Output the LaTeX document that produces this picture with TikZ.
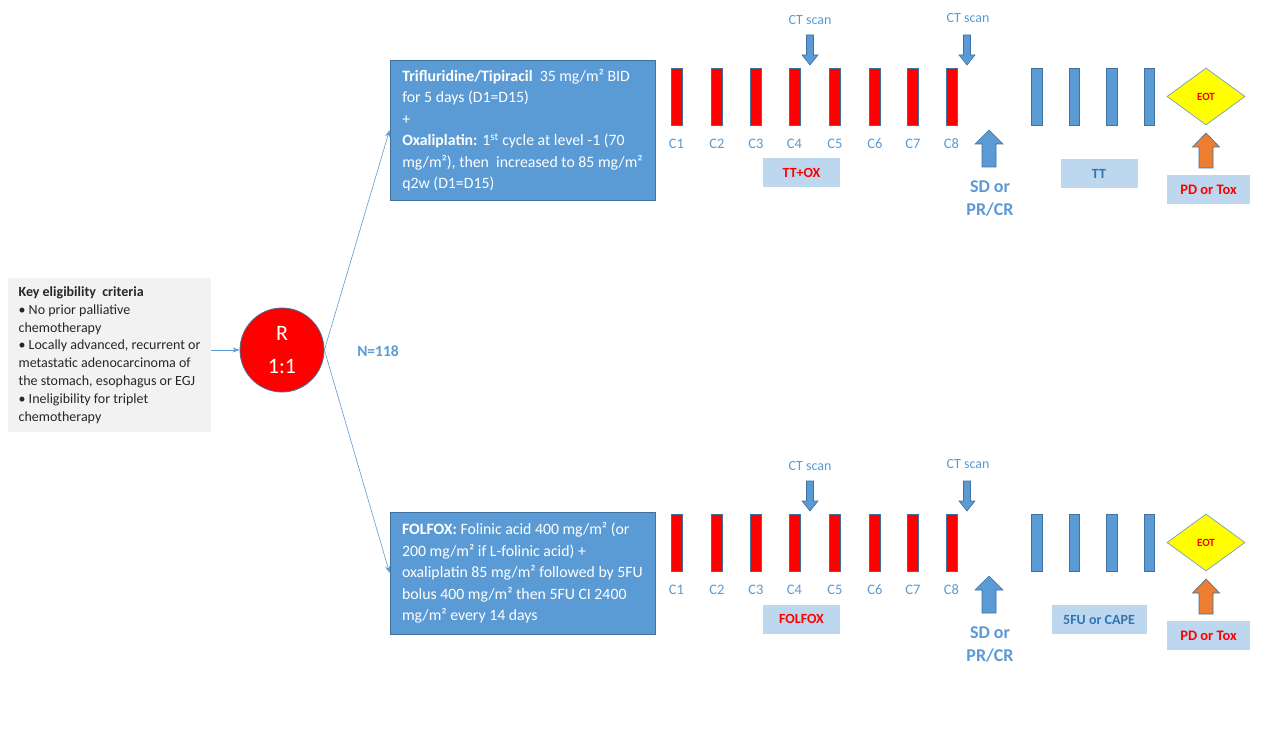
\documentclass[tikz,border=0pt]{standalone}
\usepackage{fontspec}
\setmainfont{Carlito}
\usetikzlibrary{shapes.geometric,arrows.meta}
\definecolor{cblue}{HTML}{5B9BD5}
\definecolor{cdark}{HTML}{41719C}
\definecolor{clight}{HTML}{BDD7EE}
\definecolor{cgray}{HTML}{F2F2F2}
\definecolor{cred}{HTML}{FF0000}
\definecolor{corange}{HTML}{ED7D31}
\definecolor{cyellow}{HTML}{FFFF00}
\definecolor{ctxt}{HTML}{262626}
\definecolor{ctt}{HTML}{2E75B6}
\tikzset{
  redbar/.style={draw=cdark,fill=cred,line width=0.7pt,minimum width=11pt,minimum height=57pt,inner sep=0pt},
  bluebar/.style={draw=cdark,fill=cblue,line width=0.7pt,minimum width=10.5pt,minimum height=57pt,inner sep=0pt},
  clbl/.style={text=cblue,font=\fontsize{14.5}{17}\selectfont,inner sep=0pt},
  ctlbl/.style={text=cblue,font=\fontsize{14}{17}\selectfont,inner sep=0pt},
  lbox/.style={fill=clight,draw=none,inner sep=0pt,minimum height=29pt,font=\bfseries\fontsize{14}{17}\selectfont},
  armbox/.style={fill=cblue,draw=cdark,line width=0.8pt,text=white,align=left,minimum width=265pt,inner sep=0pt,font=\fontsize{15.8}{21.5}\selectfont},
  eot/.style={diamond,fill=cyellow,draw=cdark!70,line width=0.7pt,minimum width=78pt,minimum height=57pt,inner sep=0pt,text=cred,font=\bfseries\fontsize{11}{13}\selectfont},
  resp/.style={text=cblue,align=center,inner sep=0pt,font=\bfseries\fontsize{18}{23}\selectfont},
  conn/.style={draw=cblue,line width=0.6pt,-{Stealth[length=7pt,width=5pt]}},
  ctarrow/.pic={\filldraw[fill=cblue,draw=cdark,line width=0.6pt] (-3.5,-15)--(3.5,-15)--(3.5,5)--(8,5)--(0,15)--(-8,5)--(-3.5,5)--cycle;},
  sdarrow/.pic={\filldraw[fill=cblue,draw=cdark,line width=0.6pt] (-7,18.5)--(7,18.5)--(7,-4.5)--(14,-4.5)--(0,-18.5)--(-14,-4.5)--(-7,-4.5)--cycle;},
  pdarrow/.pic={\filldraw[fill=corange,draw=cdark,line width=0.6pt] (-7,17.5)--(7,17.5)--(7,-3.5)--(13.5,-3.5)--(0,-17.5)--(-13.5,-3.5)--(-7,-3.5)--cycle;}
}
\newcommand\armrow[3]{%
  \foreach \i/\xx in {1/676.5,2/717,3/756,4/794.5,5/835,6/875,7/913,8/951.5}{
    \node[redbar] (c\i) at (\xx,96.5) {};
    \node[clbl] (l\i) at (\xx,144) {C\i};
  }
  \foreach \i/\xx in {1/1037,2/1074.5,3/1112,4/1149.5}{
    \node[bluebar] (m\i) at (\xx,96.5) {};
  }
  \node[ctlbl] (ct1) at (810,20) {CT scan};
  \node[ctlbl] (ct2) at (968,18) {CT scan};
  \pic at (810,50) {ctarrow};
  \pic at (967,50) {ctarrow};
  \node[lbox,minimum width=77pt,text=cred] (lab1) at (801.5,173) {#1};
  \node[lbox,minimum width=#3,text=ctt] (lab2) at (1099,173.5) {#2};
  \pic at (989,148.5) {sdarrow};
  \node[resp] (sd) at (990,198.5) {SD or\\PR/CR};
  \node[eot] (eot) at (1206,96.5) {EOT};
  \pic at (1206,150.5) {pdarrow};
  \node[lbox,minimum width=83pt,text=cred,font=\bfseries\fontsize{14.5}{17}\selectfont] (pd) at (1208.5,189.5) {PD or Tox};
}
\begin{document}
\begin{tikzpicture}[x=1pt,y=-1pt]
\useasboundingbox[fill=white] (0,0) rectangle (1274,746);
% eligibility
\node[fill=cgray,draw=none,text=ctxt,align=left,minimum width=203pt,minimum height=154pt,inner sep=0pt,
      font=\fontsize{14}{17.8}\selectfont] (elig) at (109.5,355)
 {\textbf{Key eligibility\ \ criteria}\\
  • No prior palliative\\
  chemotherapy\\
  • Locally advanced, recurrent or\\
  metastatic adenocarcinoma of\\
  the stomach, esophagus or EGJ\\
  • Ineligibility for triplet\\
  chemotherapy};
\node[circle,fill=cred,draw=cdark,line width=0.8pt,minimum size=84pt,inner sep=0pt,text=white,align=center,
      font=\fontsize{22}{33}\selectfont] (R) at (282,350) {R\\1:1};
\node[text=cblue,inner sep=0pt,font=\bfseries\fontsize{15.5}{19}\selectfont] (N) at (378,351) {N=118};
% arm boxes
\node[armbox,minimum height=140pt] (top) at (522.5,130)
 {\textbf{Trifluridine/Tipiracil}\ \ 35 mg/m² BID\\
  for 5 days (D1=D15)\\
  +\\
  \textbf{Oxaliplatin:} 1\textsuperscript{st} cycle at level -1 (70\\
  mg/m²), then\ \ increased to 85 mg/m²\\
  q2w (D1=D15)};
\node[armbox,minimum height=122pt] (bot) at (522.5,573)
 {\textbf{FOLFOX:} Folinic acid 400 mg/m² (or\\
  200 mg/m² if L-folinic acid) +\\
  oxaliplatin 85 mg/m² followed by 5FU\\
  bolus 400 mg/m² then 5FU CI 2400\\
  mg/m² every 14 days};
\draw[conn] (elig.east |- R.west) -- (R.west);
\draw[conn] (R.east) -- (top.west);
\draw[conn] (R.east) -- (bot.west);
\begin{scope}[name prefix=t-]
  \armrow{TT+OX}{TT}{77pt}
\end{scope}
\begin{scope}[shift={(0,446)},name prefix=b-]
  \armrow{FOLFOX}{5FU or CAPE}{95pt}
\end{scope}
\end{tikzpicture}
\end{document}
